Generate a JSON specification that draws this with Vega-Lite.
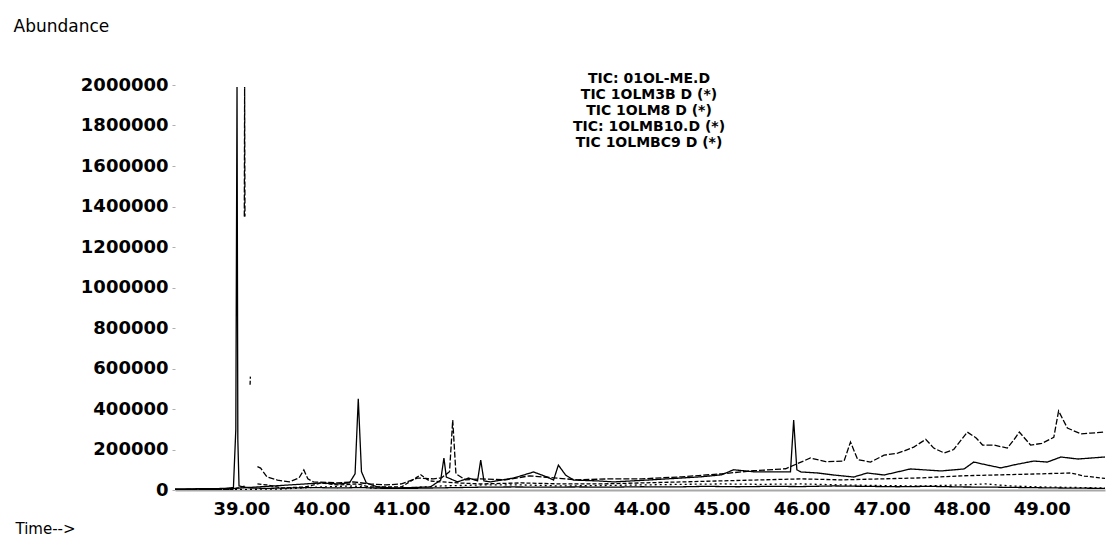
{
  "$schema": "https://vega.github.io/schema/vega-lite/v6.json",
  "width": 930,
  "height": 405,
  "autosize": {"type": "none"},
  "padding": {"left": 175, "top": 85, "right": 2, "bottom": 48},
  "background": "white",
  "title": {
    "text": ["TIC: 01OL-ME.D", "TIC  1OLM3B D (*)", "TIC  1OLM8 D (*)", "TIC: 1OLMB10.D (*)", "TIC  1OLMBC9 D (*)"],
    "anchor": "middle",
    "frame": "group",
    "orient": "top",
    "offset": -65,
    "dx": 9,
    "dy": 68,
    "font": "DejaVu Sans",
    "fontSize": 14,
    "fontWeight": "bold",
    "lineHeight": 16,
    "color": "#000"
  },
  "datasets": {
    "traces": [
      {"series": "TIC: 01OL-ME.D", "t": 38.17, "a": 3000},
      {"series": "TIC: 01OL-ME.D", "t": 38.4, "a": 4000},
      {"series": "TIC: 01OL-ME.D", "t": 38.6, "a": 5000},
      {"series": "TIC: 01OL-ME.D", "t": 38.8, "a": 7000},
      {"series": "TIC: 01OL-ME.D", "t": 38.9, "a": 12000},
      {"series": "TIC: 01OL-ME.D", "t": 38.93, "a": 300000},
      {"series": "TIC: 01OL-ME.D", "t": 38.945, "a": 1990000},
      {"series": "TIC: 01OL-ME.D", "t": 38.955, "a": 250000},
      {"series": "TIC: 01OL-ME.D", "t": 38.97, "a": 20000},
      {"series": "TIC: 01OL-ME.D", "t": 39.1, "a": 10000},
      {"series": "TIC: 01OL-ME.D", "t": 39.3, "a": 8000},
      {"series": "TIC: 01OL-ME.D", "t": 39.6, "a": 10000},
      {"series": "TIC: 01OL-ME.D", "t": 39.9, "a": 12000},
      {"series": "TIC: 01OL-ME.D", "t": 40.2, "a": 10000},
      {"series": "TIC: 01OL-ME.D", "t": 40.5, "a": 12000},
      {"series": "TIC: 01OL-ME.D", "t": 40.8, "a": 8000},
      {"series": "TIC: 01OL-ME.D", "t": 41.1, "a": 8000},
      {"series": "TIC: 01OL-ME.D", "t": 41.4, "a": 10000},
      {"series": "TIC: 01OL-ME.D", "t": 41.7, "a": 12000},
      {"series": "TIC: 01OL-ME.D", "t": 42.0, "a": 14000},
      {"series": "TIC: 01OL-ME.D", "t": 42.4, "a": 15000},
      {"series": "TIC: 01OL-ME.D", "t": 42.8, "a": 14000},
      {"series": "TIC: 01OL-ME.D", "t": 43.2, "a": 15000},
      {"series": "TIC: 01OL-ME.D", "t": 43.6, "a": 14000},
      {"series": "TIC: 01OL-ME.D", "t": 44.0, "a": 16000},
      {"series": "TIC: 01OL-ME.D", "t": 44.4, "a": 15000},
      {"series": "TIC: 01OL-ME.D", "t": 44.8, "a": 18000},
      {"series": "TIC: 01OL-ME.D", "t": 45.2, "a": 16000},
      {"series": "TIC: 01OL-ME.D", "t": 45.6, "a": 18000},
      {"series": "TIC: 01OL-ME.D", "t": 46.0, "a": 17000},
      {"series": "TIC: 01OL-ME.D", "t": 46.4, "a": 20000},
      {"series": "TIC: 01OL-ME.D", "t": 46.8, "a": 18000},
      {"series": "TIC: 01OL-ME.D", "t": 47.2, "a": 16000},
      {"series": "TIC: 01OL-ME.D", "t": 47.6, "a": 18000},
      {"series": "TIC: 01OL-ME.D", "t": 48.0, "a": 15000},
      {"series": "TIC: 01OL-ME.D", "t": 48.4, "a": 14000},
      {"series": "TIC: 01OL-ME.D", "t": 48.8, "a": 12000},
      {"series": "TIC: 01OL-ME.D", "t": 49.2, "a": 10000},
      {"series": "TIC: 01OL-ME.D", "t": 49.79, "a": 8000},

      {"series": "TIC  1OLM3B D (*)", "t": 38.17, "a": 1000},
      {"series": "TIC  1OLM3B D (*)", "t": 38.9, "a": 3000},
      {"series": "TIC  1OLM3B D (*)", "t": 39.0, "a": null},
      {"series": "TIC  1OLM3B D (*)", "t": 39.036, "a": 1350000},
      {"series": "TIC  1OLM3B D (*)", "t": 39.04, "a": 1990000},
      {"series": "TIC  1OLM3B D (*)", "t": 39.044, "a": 1350000},
      {"series": "TIC  1OLM3B D (*)", "t": 39.1, "a": null},
      {"series": "TIC  1OLM3B D (*)", "t": 39.2, "a": 115000},
      {"series": "TIC  1OLM3B D (*)", "t": 39.24, "a": 108000},
      {"series": "TIC  1OLM3B D (*)", "t": 39.32, "a": 64000},
      {"series": "TIC  1OLM3B D (*)", "t": 39.45, "a": 49000},
      {"series": "TIC  1OLM3B D (*)", "t": 39.6, "a": 40000},
      {"series": "TIC  1OLM3B D (*)", "t": 39.72, "a": 60000},
      {"series": "TIC  1OLM3B D (*)", "t": 39.78, "a": 99000},
      {"series": "TIC  1OLM3B D (*)", "t": 39.83, "a": 55000},
      {"series": "TIC  1OLM3B D (*)", "t": 39.9, "a": 40000},
      {"series": "TIC  1OLM3B D (*)", "t": 40.2, "a": 35000},
      {"series": "TIC  1OLM3B D (*)", "t": 40.4, "a": 40000},
      {"series": "TIC  1OLM3B D (*)", "t": 40.6, "a": 30000},
      {"series": "TIC  1OLM3B D (*)", "t": 40.8, "a": 25000},
      {"series": "TIC  1OLM3B D (*)", "t": 41.0, "a": 30000},
      {"series": "TIC  1OLM3B D (*)", "t": 41.2, "a": 59000},
      {"series": "TIC  1OLM3B D (*)", "t": 41.4, "a": 55000},
      {"series": "TIC  1OLM3B D (*)", "t": 41.5, "a": 60000},
      {"series": "TIC  1OLM3B D (*)", "t": 41.6, "a": 90000},
      {"series": "TIC  1OLM3B D (*)", "t": 41.64, "a": 345000},
      {"series": "TIC  1OLM3B D (*)", "t": 41.68, "a": 80000},
      {"series": "TIC  1OLM3B D (*)", "t": 41.8, "a": 50000},
      {"series": "TIC  1OLM3B D (*)", "t": 41.99, "a": 55000},
      {"series": "TIC  1OLM3B D (*)", "t": 42.3, "a": 50000},
      {"series": "TIC  1OLM3B D (*)", "t": 42.6, "a": 70000},
      {"series": "TIC  1OLM3B D (*)", "t": 42.9, "a": 60000},
      {"series": "TIC  1OLM3B D (*)", "t": 43.2, "a": 50000},
      {"series": "TIC  1OLM3B D (*)", "t": 43.6, "a": 55000},
      {"series": "TIC  1OLM3B D (*)", "t": 44.0, "a": 55000},
      {"series": "TIC  1OLM3B D (*)", "t": 44.5, "a": 65000},
      {"series": "TIC  1OLM3B D (*)", "t": 45.0, "a": 80000},
      {"series": "TIC  1OLM3B D (*)", "t": 45.4, "a": 95000},
      {"series": "TIC  1OLM3B D (*)", "t": 45.8, "a": 105000},
      {"series": "TIC  1OLM3B D (*)", "t": 46.11, "a": 158000},
      {"series": "TIC  1OLM3B D (*)", "t": 46.3, "a": 140000},
      {"series": "TIC  1OLM3B D (*)", "t": 46.53, "a": 143000},
      {"series": "TIC  1OLM3B D (*)", "t": 46.61, "a": 237000},
      {"series": "TIC  1OLM3B D (*)", "t": 46.7, "a": 150000},
      {"series": "TIC  1OLM3B D (*)", "t": 46.86, "a": 138000},
      {"series": "TIC  1OLM3B D (*)", "t": 47.03, "a": 172000},
      {"series": "TIC  1OLM3B D (*)", "t": 47.2, "a": 182000},
      {"series": "TIC  1OLM3B D (*)", "t": 47.28, "a": 193000},
      {"series": "TIC  1OLM3B D (*)", "t": 47.4, "a": 212000},
      {"series": "TIC  1OLM3B D (*)", "t": 47.55, "a": 250000},
      {"series": "TIC  1OLM3B D (*)", "t": 47.65, "a": 207000},
      {"series": "TIC  1OLM3B D (*)", "t": 47.78, "a": 183000},
      {"series": "TIC  1OLM3B D (*)", "t": 47.9, "a": 200000},
      {"series": "TIC  1OLM3B D (*)", "t": 48.07, "a": 286000},
      {"series": "TIC  1OLM3B D (*)", "t": 48.18, "a": 257000},
      {"series": "TIC  1OLM3B D (*)", "t": 48.26, "a": 222000},
      {"series": "TIC  1OLM3B D (*)", "t": 48.4, "a": 222000},
      {"series": "TIC  1OLM3B D (*)", "t": 48.57, "a": 207000},
      {"series": "TIC  1OLM3B D (*)", "t": 48.65, "a": 247000},
      {"series": "TIC  1OLM3B D (*)", "t": 48.72, "a": 286000},
      {"series": "TIC  1OLM3B D (*)", "t": 48.86, "a": 222000},
      {"series": "TIC  1OLM3B D (*)", "t": 49.0, "a": 230000},
      {"series": "TIC  1OLM3B D (*)", "t": 49.15, "a": 260000},
      {"series": "TIC  1OLM3B D (*)", "t": 49.21, "a": 390000},
      {"series": "TIC  1OLM3B D (*)", "t": 49.32, "a": 306000},
      {"series": "TIC  1OLM3B D (*)", "t": 49.49, "a": 277000},
      {"series": "TIC  1OLM3B D (*)", "t": 49.61, "a": 281000},
      {"series": "TIC  1OLM3B D (*)", "t": 49.79, "a": 286000},

      {"series": "TIC  1OLM8 D (*)", "t": 38.17, "a": 5000},
      {"series": "TIC  1OLM8 D (*)", "t": 38.9, "a": 8000},
      {"series": "TIC  1OLM8 D (*)", "t": 39.2, "a": 15000},
      {"series": "TIC  1OLM8 D (*)", "t": 39.4, "a": 20000},
      {"series": "TIC  1OLM8 D (*)", "t": 39.6, "a": 25000},
      {"series": "TIC  1OLM8 D (*)", "t": 39.8, "a": 30000},
      {"series": "TIC  1OLM8 D (*)", "t": 40.0, "a": 35000},
      {"series": "TIC  1OLM8 D (*)", "t": 40.2, "a": 30000},
      {"series": "TIC  1OLM8 D (*)", "t": 40.35, "a": 35000},
      {"series": "TIC  1OLM8 D (*)", "t": 40.42, "a": 80000},
      {"series": "TIC  1OLM8 D (*)", "t": 40.46, "a": 450000},
      {"series": "TIC  1OLM8 D (*)", "t": 40.5, "a": 90000},
      {"series": "TIC  1OLM8 D (*)", "t": 40.56, "a": 35000},
      {"series": "TIC  1OLM8 D (*)", "t": 40.7, "a": 15000},
      {"series": "TIC  1OLM8 D (*)", "t": 40.9, "a": 10000},
      {"series": "TIC  1OLM8 D (*)", "t": 41.1, "a": 12000},
      {"series": "TIC  1OLM8 D (*)", "t": 41.36, "a": 15000},
      {"series": "TIC  1OLM8 D (*)", "t": 41.49, "a": 49000},
      {"series": "TIC  1OLM8 D (*)", "t": 41.53, "a": 158000},
      {"series": "TIC  1OLM8 D (*)", "t": 41.56, "a": 64000},
      {"series": "TIC  1OLM8 D (*)", "t": 41.7, "a": 40000},
      {"series": "TIC  1OLM8 D (*)", "t": 41.84, "a": 59000},
      {"series": "TIC  1OLM8 D (*)", "t": 41.95, "a": 45000},
      {"series": "TIC  1OLM8 D (*)", "t": 41.99, "a": 148000},
      {"series": "TIC  1OLM8 D (*)", "t": 42.03, "a": 45000},
      {"series": "TIC  1OLM8 D (*)", "t": 42.11, "a": 40000},
      {"series": "TIC  1OLM8 D (*)", "t": 42.4, "a": 59000},
      {"series": "TIC  1OLM8 D (*)", "t": 42.65, "a": 89000},
      {"series": "TIC  1OLM8 D (*)", "t": 42.82, "a": 64000},
      {"series": "TIC  1OLM8 D (*)", "t": 42.9, "a": 49000},
      {"series": "TIC  1OLM8 D (*)", "t": 42.96, "a": 123000},
      {"series": "TIC  1OLM8 D (*)", "t": 43.05, "a": 74000},
      {"series": "TIC  1OLM8 D (*)", "t": 43.15, "a": 49000},
      {"series": "TIC  1OLM8 D (*)", "t": 43.45, "a": 45000},
      {"series": "TIC  1OLM8 D (*)", "t": 43.65, "a": 40000},
      {"series": "TIC  1OLM8 D (*)", "t": 44.07, "a": 49000},
      {"series": "TIC  1OLM8 D (*)", "t": 44.49, "a": 59000},
      {"series": "TIC  1OLM8 D (*)", "t": 44.74, "a": 65000},
      {"series": "TIC  1OLM8 D (*)", "t": 45.0, "a": 75000},
      {"series": "TIC  1OLM8 D (*)", "t": 45.15, "a": 100000},
      {"series": "TIC  1OLM8 D (*)", "t": 45.4, "a": 90000},
      {"series": "TIC  1OLM8 D (*)", "t": 45.6, "a": 90000},
      {"series": "TIC  1OLM8 D (*)", "t": 45.86, "a": 90000},
      {"series": "TIC  1OLM8 D (*)", "t": 45.9, "a": 345000},
      {"series": "TIC  1OLM8 D (*)", "t": 45.94, "a": 100000},
      {"series": "TIC  1OLM8 D (*)", "t": 45.99, "a": 89000},
      {"series": "TIC  1OLM8 D (*)", "t": 46.2, "a": 84000},
      {"series": "TIC  1OLM8 D (*)", "t": 46.4, "a": 74000},
      {"series": "TIC  1OLM8 D (*)", "t": 46.65, "a": 64000},
      {"series": "TIC  1OLM8 D (*)", "t": 46.82, "a": 84000},
      {"series": "TIC  1OLM8 D (*)", "t": 47.03, "a": 74000},
      {"series": "TIC  1OLM8 D (*)", "t": 47.36, "a": 104000},
      {"series": "TIC  1OLM8 D (*)", "t": 47.74, "a": 94000},
      {"series": "TIC  1OLM8 D (*)", "t": 48.03, "a": 104000},
      {"series": "TIC  1OLM8 D (*)", "t": 48.15, "a": 138000},
      {"series": "TIC  1OLM8 D (*)", "t": 48.32, "a": 123000},
      {"series": "TIC  1OLM8 D (*)", "t": 48.49, "a": 109000},
      {"series": "TIC  1OLM8 D (*)", "t": 48.64, "a": 123000},
      {"series": "TIC  1OLM8 D (*)", "t": 48.9, "a": 143000},
      {"series": "TIC  1OLM8 D (*)", "t": 49.07, "a": 138000},
      {"series": "TIC  1OLM8 D (*)", "t": 49.24, "a": 163000},
      {"series": "TIC  1OLM8 D (*)", "t": 49.45, "a": 153000},
      {"series": "TIC  1OLM8 D (*)", "t": 49.79, "a": 163000},

      {"series": "TIC: 1OLMB10.D (*)", "t": 38.17, "a": 2000},
      {"series": "TIC: 1OLMB10.D (*)", "t": 38.9, "a": 4000},
      {"series": "TIC: 1OLMB10.D (*)", "t": 39.05, "a": 20000},
      {"series": "TIC: 1OLMB10.D (*)", "t": 39.1, "a": null},
      {"series": "TIC: 1OLMB10.D (*)", "t": 39.108, "a": 520000},
      {"series": "TIC: 1OLMB10.D (*)", "t": 39.112, "a": 560000},
      {"series": "TIC: 1OLMB10.D (*)", "t": 39.14, "a": null},
      {"series": "TIC: 1OLMB10.D (*)", "t": 39.2, "a": 30000},
      {"series": "TIC: 1OLMB10.D (*)", "t": 39.32, "a": 25000},
      {"series": "TIC: 1OLMB10.D (*)", "t": 39.5, "a": 10000},
      {"series": "TIC: 1OLMB10.D (*)", "t": 39.8, "a": 15000},
      {"series": "TIC: 1OLMB10.D (*)", "t": 40.0, "a": 35000},
      {"series": "TIC: 1OLMB10.D (*)", "t": 40.2, "a": 25000},
      {"series": "TIC: 1OLMB10.D (*)", "t": 40.45, "a": 30000},
      {"series": "TIC: 1OLMB10.D (*)", "t": 40.6, "a": 15000},
      {"series": "TIC: 1OLMB10.D (*)", "t": 41.0, "a": 15000},
      {"series": "TIC: 1OLMB10.D (*)", "t": 41.24, "a": 75000},
      {"series": "TIC: 1OLMB10.D (*)", "t": 41.35, "a": 45000},
      {"series": "TIC: 1OLMB10.D (*)", "t": 41.5, "a": 40000},
      {"series": "TIC: 1OLMB10.D (*)", "t": 41.7, "a": 35000},
      {"series": "TIC: 1OLMB10.D (*)", "t": 42.0, "a": 30000},
      {"series": "TIC: 1OLMB10.D (*)", "t": 42.5, "a": 35000},
      {"series": "TIC: 1OLMB10.D (*)", "t": 43.0, "a": 30000},
      {"series": "TIC: 1OLMB10.D (*)", "t": 43.5, "a": 30000},
      {"series": "TIC: 1OLMB10.D (*)", "t": 44.0, "a": 35000},
      {"series": "TIC: 1OLMB10.D (*)", "t": 44.5, "a": 40000},
      {"series": "TIC: 1OLMB10.D (*)", "t": 45.0, "a": 45000},
      {"series": "TIC: 1OLMB10.D (*)", "t": 45.5, "a": 50000},
      {"series": "TIC: 1OLMB10.D (*)", "t": 46.0, "a": 55000},
      {"series": "TIC: 1OLMB10.D (*)", "t": 46.5, "a": 50000},
      {"series": "TIC: 1OLMB10.D (*)", "t": 47.0, "a": 55000},
      {"series": "TIC: 1OLMB10.D (*)", "t": 47.5, "a": 60000},
      {"series": "TIC: 1OLMB10.D (*)", "t": 48.0, "a": 70000},
      {"series": "TIC: 1OLMB10.D (*)", "t": 48.5, "a": 75000},
      {"series": "TIC: 1OLMB10.D (*)", "t": 49.0, "a": 80000},
      {"series": "TIC: 1OLMB10.D (*)", "t": 49.36, "a": 84000},
      {"series": "TIC: 1OLMB10.D (*)", "t": 49.53, "a": 69000},
      {"series": "TIC: 1OLMB10.D (*)", "t": 49.74, "a": 59000},
      {"series": "TIC: 1OLMB10.D (*)", "t": 49.79, "a": 57000},

      {"series": "TIC  1OLMBC9 D (*)", "t": 38.17, "a": 1000},
      {"series": "TIC  1OLMBC9 D (*)", "t": 39.0, "a": 3000},
      {"series": "TIC  1OLMBC9 D (*)", "t": 39.5, "a": 5000},
      {"series": "TIC  1OLMBC9 D (*)", "t": 40.0, "a": 15000},
      {"series": "TIC  1OLMBC9 D (*)", "t": 40.4, "a": 20000},
      {"series": "TIC  1OLMBC9 D (*)", "t": 40.6, "a": 10000},
      {"series": "TIC  1OLMBC9 D (*)", "t": 41.0, "a": 8000},
      {"series": "TIC  1OLMBC9 D (*)", "t": 41.5, "a": 20000},
      {"series": "TIC  1OLMBC9 D (*)", "t": 42.0, "a": 25000},
      {"series": "TIC  1OLMBC9 D (*)", "t": 42.5, "a": 25000},
      {"series": "TIC  1OLMBC9 D (*)", "t": 43.0, "a": 20000},
      {"series": "TIC  1OLMBC9 D (*)", "t": 43.5, "a": 22000},
      {"series": "TIC  1OLMBC9 D (*)", "t": 44.0, "a": 25000},
      {"series": "TIC  1OLMBC9 D (*)", "t": 44.5, "a": 28000},
      {"series": "TIC  1OLMBC9 D (*)", "t": 45.0, "a": 30000},
      {"series": "TIC  1OLMBC9 D (*)", "t": 45.5, "a": 28000},
      {"series": "TIC  1OLMBC9 D (*)", "t": 46.0, "a": 30000},
      {"series": "TIC  1OLMBC9 D (*)", "t": 46.5, "a": 25000},
      {"series": "TIC  1OLMBC9 D (*)", "t": 47.0, "a": 22000},
      {"series": "TIC  1OLMBC9 D (*)", "t": 47.5, "a": 20000},
      {"series": "TIC  1OLMBC9 D (*)", "t": 48.0, "a": 25000},
      {"series": "TIC  1OLMBC9 D (*)", "t": 48.3, "a": 30000},
      {"series": "TIC  1OLMBC9 D (*)", "t": 48.6, "a": 20000},
      {"series": "TIC  1OLMBC9 D (*)", "t": 49.0, "a": 15000},
      {"series": "TIC  1OLMBC9 D (*)", "t": 49.5, "a": 12000},
      {"series": "TIC  1OLMBC9 D (*)", "t": 49.79, "a": 10000}
    ]
  },
  "data": {"name": "traces"},
  "mark": {"type": "line", "color": "#000000", "strokeWidth": 1.3, "clip": true},
  "encoding": {
    "x": {
      "field": "t",
      "type": "quantitative",
      "scale": {"domain": [38.17, 49.79], "nice": false, "zero": false},
      "axis": {
        "title": "Time-->",
        "titleX": -160,
        "titleY": 38,
        "titleAlign": "left",
        "titleBaseline": "middle",
        "titleAnchor": null,
        "titleFont": "DejaVu Sans",
        "titleFontSize": 15,
        "titleFontWeight": "normal",
        "titleColor": "#000",
        "values": [39, 40, 41, 42, 43, 44, 45, 46, 47, 48, 49],
        "format": ".2f",
        "labelFont": "DejaVu Sans",
        "labelFontSize": 18,
        "labelFontWeight": "bold",
        "labelColor": "#000",
        "labelPadding": 10,
        "ticks": false,
        "grid": false,
        "domain": true,
        "domainColor": "#a8a8a8",
        "domainWidth": 2,
        "labelFlush": false,
        "labelOverlap": false
      }
    },
    "y": {
      "field": "a",
      "type": "quantitative",
      "scale": {"domain": [0, 2000000], "nice": false},
      "axis": {
        "title": "Abundance",
        "titleAngle": 0,
        "titleX": -162,
        "titleY": -59,
        "titleAlign": "left",
        "titleBaseline": "middle",
        "titleAnchor": null,
        "titleFont": "DejaVu Sans",
        "titleFontSize": 17,
        "titleFontWeight": "normal",
        "titleColor": "#000",
        "values": [0, 200000, 400000, 600000, 800000, 1000000, 1200000, 1400000, 1600000, 1800000, 2000000],
        "format": "d",
        "labelFont": "DejaVu Sans",
        "labelFontSize": 18,
        "labelFontWeight": "bold",
        "labelColor": "#000",
        "labelPadding": 4,
        "tickSize": 3,
        "tickColor": "#b0b0b0",
        "grid": false,
        "domain": false,
        "labelFlush": false,
        "labelOverlap": false
      }
    },
    "strokeDash": {
      "field": "series",
      "type": "nominal",
      "scale": {
        "domain": ["TIC: 01OL-ME.D", "TIC  1OLM3B D (*)", "TIC  1OLM8 D (*)", "TIC: 1OLMB10.D (*)", "TIC  1OLMBC9 D (*)"],
        "range": [[1, 0], [6, 2], [1, 0], [4, 2], [2, 3]]
      },
      "legend": null
    }
  },
  "config": {"view": {"stroke": null}}
}
